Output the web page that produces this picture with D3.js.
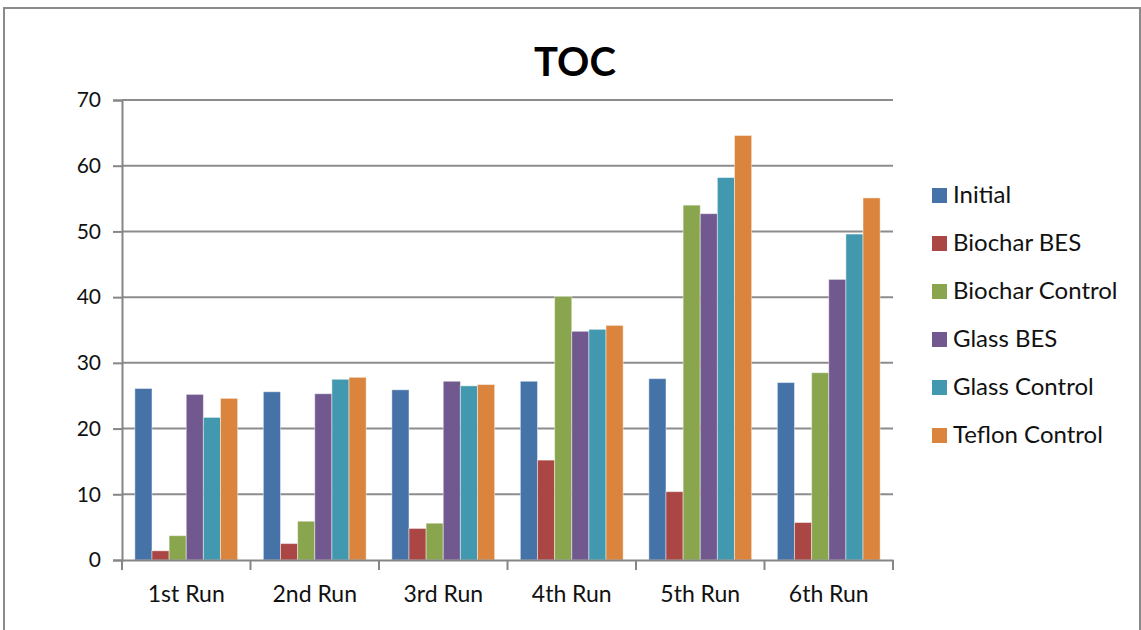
<!DOCTYPE html>
<html><head><meta charset="utf-8">
<script src="https://cdn.jsdelivr.net/npm/d3@7"></script>
<style>body{margin:0;background:#fff}svg{display:block}</style>
</head><body>
<script>
const categories = ["1st Run","2nd Run","3rd Run","4th Run","5th Run","6th Run"];
const seriesNames = ["Initial","Biochar BES","Biochar Control","Glass BES","Glass Control","Teflon Control"];
const initial        = [26.1, 25.6, 25.9, 27.2, 27.6, 27.0];
const biocharBES     = [1.4, 2.5, 4.8, 15.2, 10.4, 5.7];
const biocharControl = [3.7, 5.9, 5.6, 40.1, 54.0, 28.5];
const glassBES       = [25.2, 25.3, 27.2, 34.8, 52.7, 42.7];
const glassControl   = [21.7, 27.5, 26.5, 35.1, 58.2, 49.6];
const teflonControl  = [24.6, 27.8, 26.7, 35.7, 64.6, 55.1];
const yTicks = [0,10,20,30,40,50,60,70];
const colors = ["#4572A7","#AA4643","#89A54E","#71588F","#4198AF","#DB843D"];

const seriesValues = [initial, biocharBES, biocharControl, glassBES, glassControl, teflonControl];
const W = 1141, H = 630;
const svg = d3.select("body").append("svg").attr("width", W).attr("height", H);
const font = "Lato, 'Open Sans', sans-serif";

// frame
svg.append("path").attr("d", `M4,${H} L4,8 L1140,8 L1140,${H}`)
  .attr("fill","none").attr("stroke","#8a8a8a").attr("stroke-width",2);

const pLeft = 122, pRight = 893, pTop = 100, pBottom = 560;
const x0 = d3.scaleBand().domain(categories).range([pLeft,pRight]).paddingInner(0).paddingOuter(0);
const x1 = d3.scaleBand().domain(seriesNames).range([0,x0.bandwidth()]).paddingInner(0).paddingOuter(0.75);
const y = d3.scaleLinear().domain([0,70]).range([pBottom,pTop]);

// gridlines
svg.append("g").selectAll("line").data(yTicks.filter(d=>d>0)).join("line")
  .attr("x1", pLeft).attr("x2", pRight).attr("y1", d=>y(d)).attr("y2", d=>y(d))
  .attr("stroke","#8c8c8c").attr("stroke-width",2);

// bars
const groups = svg.append("g").selectAll("g").data(seriesNames).join("g")
  .attr("fill",(d,i)=>colors[i]);
groups.selectAll("rect").data((s,i)=>categories.map((c,j)=>({s, c, v: seriesValues[i][j]}))).join("rect")
  .attr("x", d=>x0(d.c)+x1(d.s))
  .attr("width", x1.bandwidth())
  .attr("y", d=>y(d.v))
  .attr("height", d=>pBottom - y(d.v))
  .attr("stroke","rgba(255,255,255,0.45)").attr("stroke-width",1);

// y axis
const yAxis = svg.append("g").attr("transform",`translate(${pLeft},0)`)
  .call(d3.axisLeft(y).tickValues(yTicks).tickSize(9).tickPadding(12).tickFormat(d3.format("d")));
yAxis.select(".domain").attr("stroke","#868686").attr("stroke-width",2);
yAxis.selectAll(".tick line").attr("stroke","#868686").attr("stroke-width",2);
yAxis.selectAll("text").attr("font-family",font).attr("font-size",21).attr("fill","#111");

// x axis
const xAxis = svg.append("g").attr("transform",`translate(0,${pBottom})`)
  .call(d3.axisBottom(x0).tickSize(0).tickPadding(26));
xAxis.select(".domain").attr("stroke","#868686").attr("stroke-width",2);
xAxis.selectAll("text").attr("font-family",font).attr("font-size",23).attr("fill","#111");
const bounds = categories.map(c=>x0(c)).concat([pRight]);
svg.append("g").selectAll("line").data(bounds).join("line")
  .attr("x1",d=>d).attr("x2",d=>d).attr("y1",pBottom).attr("y2",pBottom+10)
  .attr("stroke","#868686").attr("stroke-width",2);

// title
svg.append("text").attr("x",575).attr("y",76).attr("text-anchor","middle")
  .attr("font-family",font).attr("font-weight","bold").attr("font-size",40).attr("fill","#000").text("TOC");

// legend
const lg = svg.append("g").selectAll("g").data(seriesNames).join("g")
  .attr("transform",(d,i)=>`translate(932,${195 + i*48})`);
lg.append("rect").attr("x",0).attr("y",-7).attr("width",15).attr("height",15).attr("fill",(d,i)=>colors[i]);
lg.append("text").attr("x",21).attr("y",0).attr("dy","0.35em")
  .attr("font-family",font).attr("font-size",24).attr("fill","#111").text(d=>d);
</script>
</body></html>
